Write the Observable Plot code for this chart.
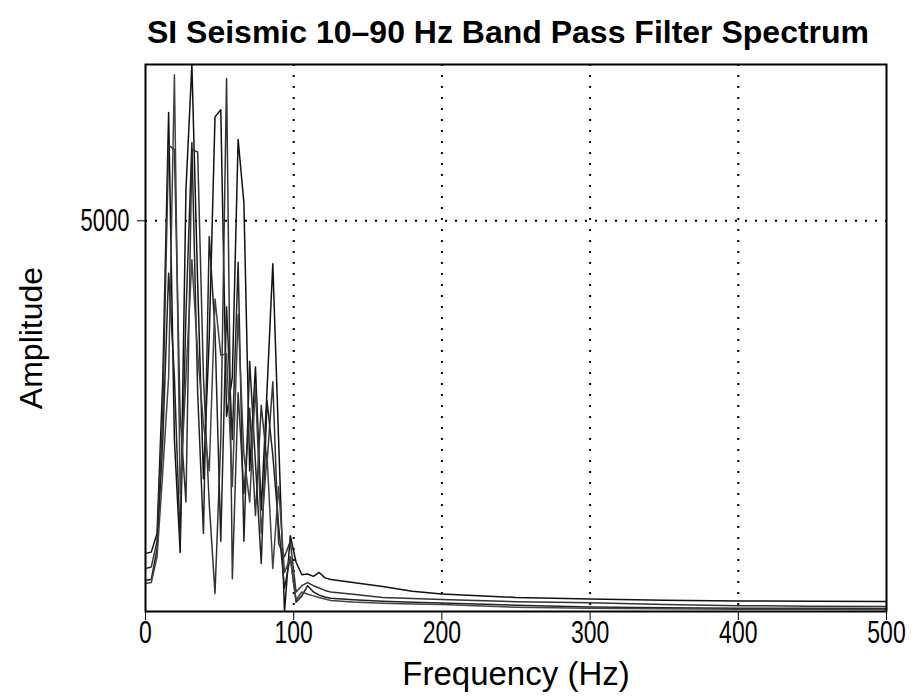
<!DOCTYPE html>
<html>
<head>
<meta charset="utf-8">
<script src="https://cdn.jsdelivr.net/npm/d3@7"></script>
<script src="https://cdn.jsdelivr.net/npm/@observablehq/plot@0.6"></script>
<style>
  html, body { margin: 0; padding: 0; background: #fff; }
  #title {
    box-sizing: border-box;
    width: 916px; height: 60px;
    padding: 14px 0 0 100px;
    font: bold 32px "Liberation Sans", Arial, sans-serif;
    text-align: center; color: #000; white-space: nowrap;
  }
</style>
</head>
<body>
<div id="title"></div>
<div id="chart"></div>
<script>
const titleText = "SI Seismic 10–90 Hz Band Pass Filter Spectrum";
const xLabel = "Frequency (Hz)";
const yLabel = "Amplitude";
const xTicks = [0, 100, 200, 300, 400, 500];
const yTicks = [5000];
const xGrid = [100, 200, 300, 400];

const freq = [0,3.9,7.8,11.7,15.6,19.5,23.4,27.3,31.3,35.2,39.1,43.0,46.9,50.8,54.7,58.6,62.5,66.4,70.3,74.2,78.1,82.0,85.9,89.8,93.8,97.7,101.6,105.5,109.4,113.3,117.2,121.1,125,140,160,180,200,250,300,350,400,450,500];

const series1 = [744,760,1000,3000,6385,2200,756,5400,7000,4200,1700,3500,6330,6420,2500,3000,6040,5230,1800,3130,1300,2830,4450,2200,0,970,630,470,480,450,500,430,410,370,320,260,225,180,160,145,135,130,128];
const series2 = [551,570,900,2600,5970,5910,2500,1400,5910,5880,3000,1380,230,2200,6820,420,2800,1510,2600,1230,2640,1900,2940,870,700,900,250,330,370,330,300,270,250,220,180,165,154,125,112,90,75,68,64];
const series3 = [397,410,800,2200,4330,3000,900,3800,6000,2800,1000,4800,3600,900,3900,2200,4470,900,3200,1900,615,2700,2000,1100,300,700,120,200,330,250,210,185,170,150,130,118,110,80,58,48,42,40,38];
const series4 = [359,370,700,1800,3000,6870,1500,3000,4500,3300,2400,1800,4000,3280,3300,1600,3800,2000,1400,2900,1000,2000,550,1600,500,690,150,250,220,200,180,160,140,120,105,95,88,55,40,34,30,28,26];

const seriesNames = ["S1", "S2", "S3", "S4"];
const seriesValues = [series1, series2, series3, series4];

document.getElementById("title").textContent = titleText;

const rows = [];
seriesValues.forEach((vals, k) => {
  vals.forEach((v, i) => rows.push({s: seriesNames[k], f: freq[i], v}));
});

const chart = Plot.plot({
  width: 916,
  height: 640,
  marginTop: 4,
  marginLeft: 145,
  marginRight: 30,
  marginBottom: 89,
  style: {fontFamily: "'Liberation Sans', Arial, sans-serif", fontSize: "24px", color: "#000", background: "#fff"},
  x: {domain: [0, 500]},
  y: {domain: [0, 7000]},
  color: {domain: seriesNames, range: ["#111", "#333", "#222", "#444"]},
  marks: [
    Plot.gridX(xGrid, {stroke: "#000", strokeOpacity: 1, strokeWidth: 2, strokeDasharray: "2,9"}),
    Plot.gridY(yTicks, {stroke: "#000", strokeOpacity: 1, strokeWidth: 2, strokeDasharray: "2,8"}),
    Plot.line(rows, {x: "f", y: "v", z: "s", stroke: "s", strokeWidth: 1.5, clip: true}),
    Plot.frame({stroke: "#000", strokeWidth: 2}),
    Plot.axisX(xTicks, {tickSize: 9, tickPadding: 3, fontSize: 23, label: null, tickFormat: d => String(d)}),
    Plot.axisY(yTicks, {tickSize: 8, tickPadding: 8, fontSize: 22, label: null, tickFormat: d => String(d)}),
    Plot.text([xLabel], {frameAnchor: "bottom", dy: 63, text: d => d, fontSize: 33, textAnchor: "middle", lineAnchor: "middle"}),
    Plot.text([yLabel], {frameAnchor: "left", dx: -114, rotate: -90, text: d => d, fontSize: 32, textAnchor: "middle", lineAnchor: "middle"})
  ]
});
document.getElementById("chart").appendChild(chart);

// vertically stretch tick labels (tall, narrow glyphs as in the reference)
function stretch(selector, s) {
  chart.querySelectorAll(selector).forEach(t => {
    const b = t.getBBox();
    const cx = b.x + b.width / 2, cy = b.y + b.height / 2;
    const tr = t.getAttribute("transform") || "";
    t.setAttribute("transform", `${tr} translate(${cx},${cy}) scale(1,${s}) translate(${-cx},${-cy})`);
  });
}
stretch('g[aria-label="x-axis tick label"] text', 1.4);
stretch('g[aria-label="y-axis tick label"] text', 1.4);
</script>
</body>
</html>
